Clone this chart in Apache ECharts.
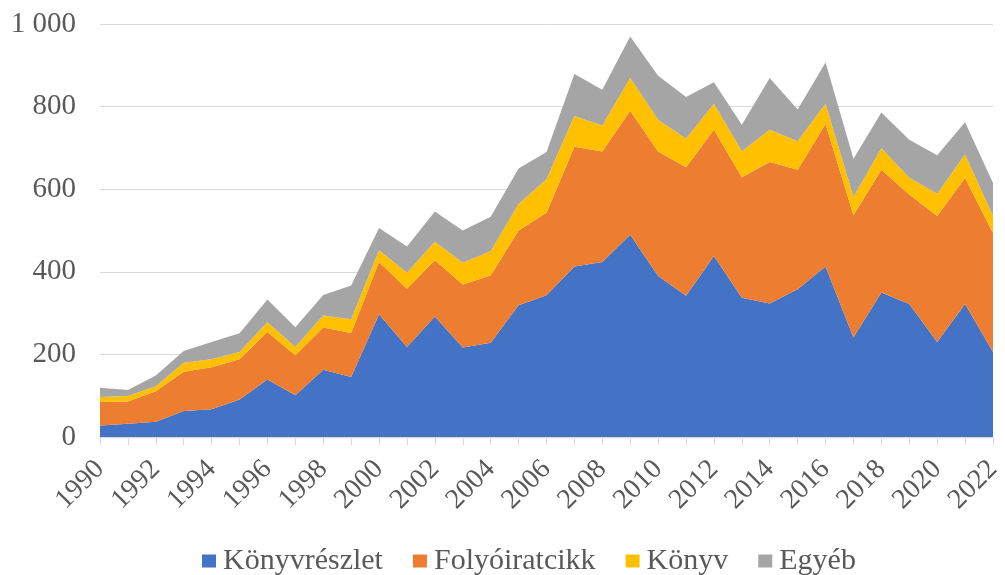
<!DOCTYPE html>
<html><head><meta charset="utf-8">
<script src="https://cdn.jsdelivr.net/npm/echarts@6/dist/echarts.min.js"></script>
<style>html,body{margin:0;padding:0;background:#fff}#c{width:1005px;height:575px}</style>
</head><body><div id="c"></div>
<script>
const years = ['1990','1991','1992','1993','1994','1995','1996','1997','1998','1999','2000','2001','2002','2003','2004','2005','2006','2007','2008','2009','2010','2011','2012','2013','2014','2015','2016','2017','2018','2019','2020','2021','2022'];
const konyvreszlet = [28,32,37,63,67,91,139,101,163,145,297,218,292,217,228,319,343,413,424,490,390,342,438,337,323,358,413,241,350,322,230,322,206];
const folyoiratcikk = [57,54,74,95,102,97,115,97,102,107,127,141,136,152,163,181,200,290,267,300,301,311,306,292,343,289,345,296,297,265,305,305,288];
const konyv = [12,13,12,22,19,18,24,20,29,33,28,39,45,53,59,64,81,74,63,79,77,69,63,63,78,69,49,44,52,41,54,57,41];
const egyeb = [22,15,26,28,42,45,55,48,50,82,54,63,73,78,83,86,66,102,87,101,107,101,52,64,125,77,100,93,87,92,93,78,80];
const names = ['Könyvrészlet','Folyóiratcikk','Könyv','Egyéb'];
const colors = ['#4472C4','#ED7D31','#FFC000','#A5A5A5'];
const font = '"Liberation Serif","Times New Roman",serif';
const chart = echarts.init(document.getElementById('c'));
const mk = (name, data, color) => ({
  name, type:'line', stack:'total', data, color,
  showSymbol:false, symbol:'none',
  lineStyle:{width:0}, areaStyle:{color, opacity:1}
});
chart.setOption({
  animation:false,
  grid:{left:100,right:8,top:24,bottom:138,containLabel:false},
  legend:{
    top:546, left:202, itemWidth:14, itemHeight:13, itemGap:30,
    icon:'rect', padding:0,
    textStyle:{fontFamily:font,fontSize:30,color:'#595959',padding:[0,0,0,2]},
    data:names
  },
  xAxis:{
    type:'category', data:years, boundaryGap:false,
    axisLine:{lineStyle:{color:'#d9d9d9',width:1}},
    axisTick:{show:true,interval:0,length:8,lineStyle:{color:'#d9d9d9'}},
    axisLabel:{interval:1,rotate:45,margin:28,fontFamily:font,fontSize:28,color:'#595959'}
  },
  yAxis:{
    type:'value', min:0, max:1000, interval:200,
    axisLine:{show:false}, axisTick:{show:false},
    splitLine:{lineStyle:{color:'#d9d9d9',width:1}},
    axisLabel:{margin:24,fontFamily:font,fontSize:29,color:'#595959',
      formatter:v=>String(v).replace(/\B(?=(\d{3})+(?!\d))/g,' ')}
  },
  series:[
    mk(names[0], konyvreszlet, colors[0]),
    mk(names[1], folyoiratcikk, colors[1]),
    mk(names[2], konyv, colors[2]),
    mk(names[3], egyeb, colors[3])
  ]
});
</script></body></html>
